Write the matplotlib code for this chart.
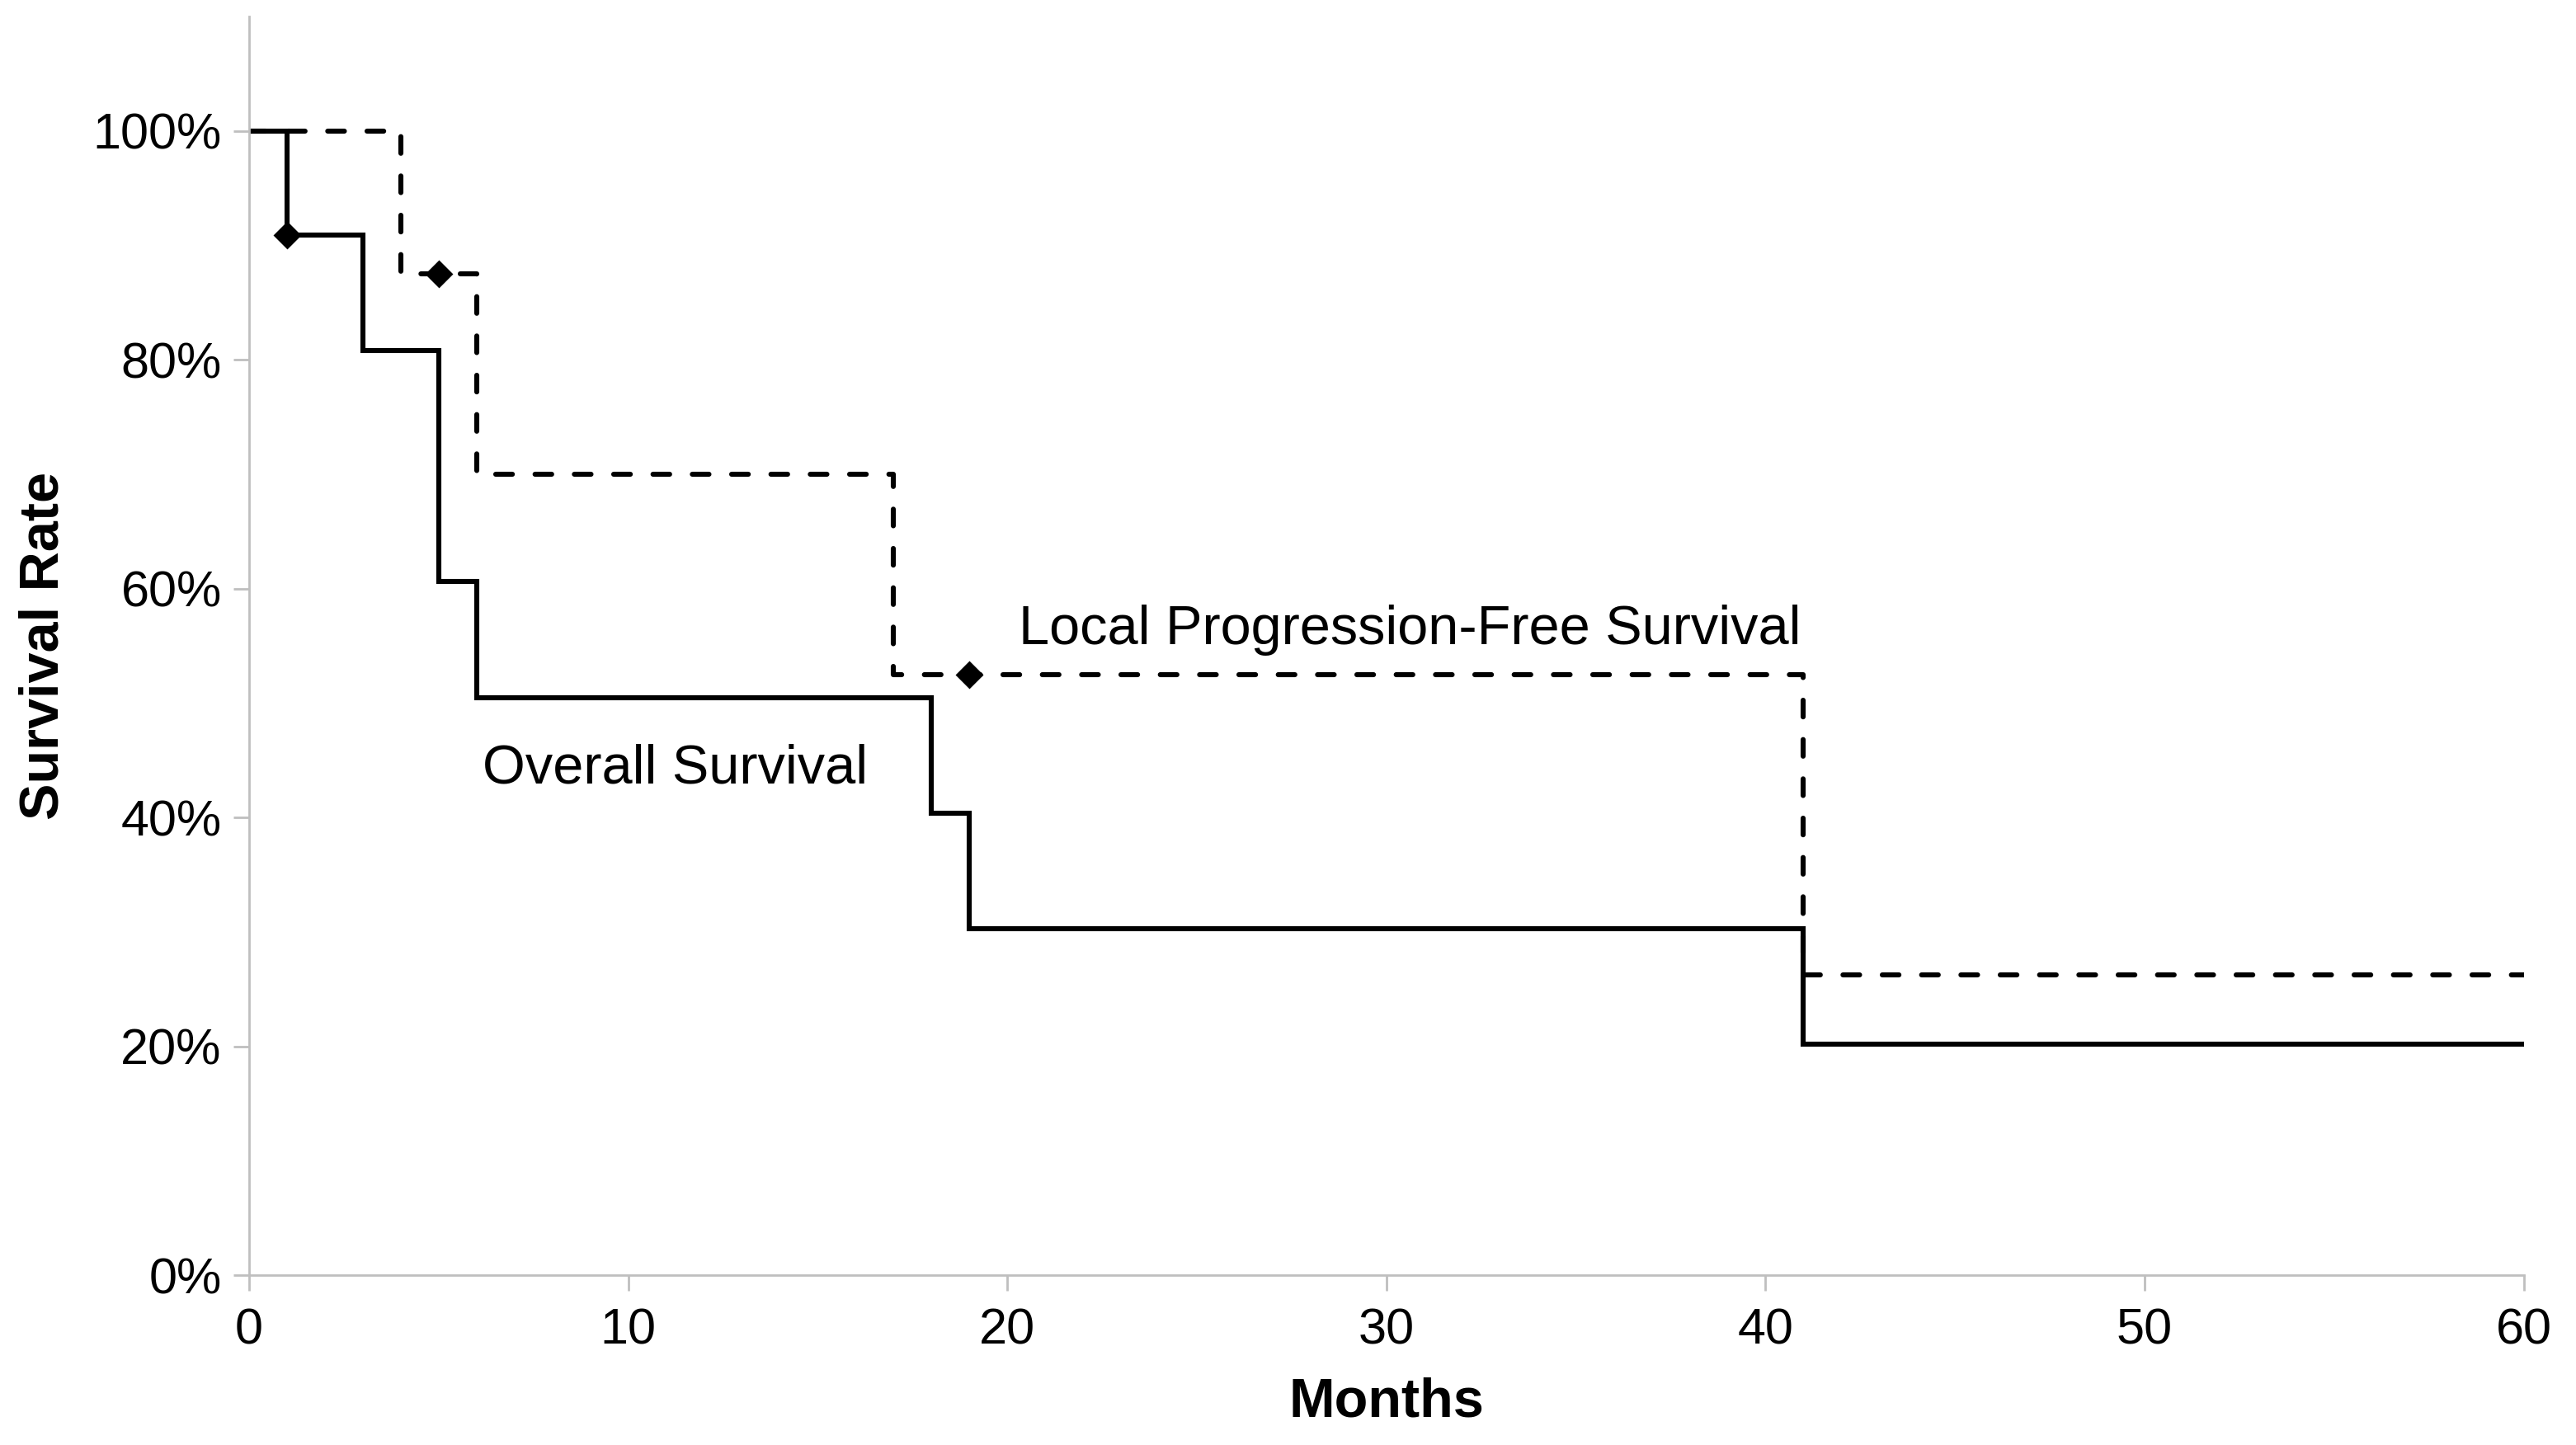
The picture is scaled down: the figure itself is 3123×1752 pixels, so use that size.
import numpy as np
import matplotlib
matplotlib.use("Agg")
import matplotlib.pyplot as plt
from matplotlib.ticker import PercentFormatter

plt.rcParams['font.family'] = ['Liberation Sans', 'DejaVu Sans']

# ------------------------------------------------------------
# Kaplan-Meier step data
# ------------------------------------------------------------
os_months = [0, 1, 3, 5, 6, 18, 19, 41, 60]
os_rate = [1.0, 0.909, 0.808, 0.606, 0.505, 0.404, 0.303, 0.202, 0.202]

lpfs_months = [0, 4, 6, 17, 41, 60]
lpfs_rate = [1.0, 0.875, 0.70, 0.525, 0.2625, 0.2625]

# censor marks
os_cens_t = [1]
os_cens_y = [0.909]
lpfs_cens_t = [5, 19]
lpfs_cens_y = [0.875, 0.525]

fig = plt.figure(figsize=(15.615, 8.76), dpi=200)
ax = fig.add_axes([0.0967, 0.1175, 0.883, 0.871])

ax.step(os_months, os_rate, where="post", color="black", lw=2.2,
        solid_joinstyle="miter")
ax.step(lpfs_months, lpfs_rate, where="post", color="black", lw=2.2,
        linestyle=(0, (3.3, 4.5)), dash_capstyle="round")
ax.plot(os_cens_t, os_cens_y, "D", color="black", ms=7.5, lw=0)
ax.plot(lpfs_cens_t, lpfs_cens_y, "D", color="black", ms=7.5, lw=0)

ax.text(20.3, 0.564, "Local Progression-Free Survival", fontsize=24,
        va="center", ha="left")
ax.text(6.15, 0.442, "Overall Survival", fontsize=24, va="center", ha="left")

ax.set_xlim(0, 60)
ax.set_ylim(0, 1.1)
ax.set_xticks(np.arange(0, 61, 10))
ax.set_yticks(np.arange(0, 1.01, 0.2))
ax.yaxis.set_major_formatter(PercentFormatter(1.0, decimals=0))

for side in ["top", "right"]:
    ax.spines[side].set_visible(False)
for side in ["left", "bottom"]:
    ax.spines[side].set_color("#bfbfbf")
    ax.spines[side].set_linewidth(1.0)

ax.tick_params(axis="both", colors="#bfbfbf", labelcolor="black",
               labelsize=22, length=7, width=1.0, direction="out")
ax.tick_params(axis="x", pad=7)
ax.tick_params(axis="y", pad=5)

ax.set_xlabel("Months", fontsize=24, fontweight="bold", labelpad=10)
ax.set_ylabel("Survival Rate", fontsize=24, fontweight="bold", labelpad=10)

fig.savefig("out.png", dpi=200)
